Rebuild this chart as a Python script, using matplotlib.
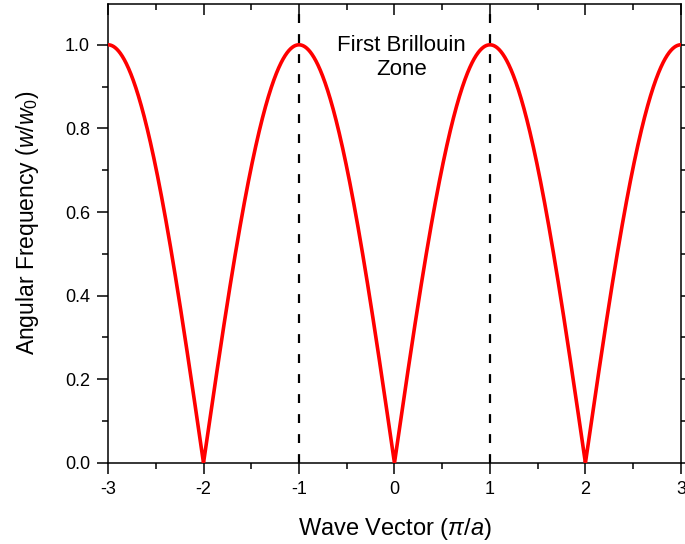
import numpy as np
import matplotlib.pyplot as plt
from matplotlib.ticker import MultipleLocator

# Relation de dispersion d'une chaine monoatomique: w/w0 = |sin(k a / 2)|
k_min, k_max = -3, 3          # vecteur d'onde en unites de pi/a
w_max = 1.0                   # amplitude (w/w0)
zone_edges = [-1, 1]          # limites de la premiere zone de Brillouin
x_ticks = [-3, -2, -1, 0, 1, 2, 3]
y_ticks = [0.0, 0.2, 0.4, 0.6, 0.8, 1.0]

k = np.linspace(k_min, k_max, 2001)
w = w_max * np.abs(np.sin(np.pi * k / 2))

plt.rcParams['font.family'] = ['Liberation Sans', 'DejaVu Sans']
plt.rcParams['mathtext.fontset'] = 'custom'
plt.rcParams['mathtext.rm'] = 'Liberation Sans'
plt.rcParams['mathtext.it'] = 'Liberation Sans:italic'

fig = plt.figure(figsize=(6.85, 5.44), dpi=100)
ax = fig.add_axes([0.1577, 0.149, 0.8363, 0.844])

ax.plot(k, w, color='red', lw=2.6, zorder=3)
for xe in zone_edges:
    ax.axvline(xe, color='black', ls=(0, (4, 5)), lw=1.6, zorder=2)

ax.text(0.07, 0.97, 'First Brillouin\nZone', ha='center', va='center',
        multialignment='center', fontsize=16, linespacing=1.15)

ax.set_xlim(k_min, k_max)
ax.set_ylim(0, 1.098)
ax.set_xticks(x_ticks)
ax.set_xticklabels([str(t) for t in x_ticks])
ax.set_yticks(y_ticks)
ax.set_yticklabels(['%.1f' % t for t in y_ticks])
ax.xaxis.set_minor_locator(MultipleLocator(0.5))
ax.yaxis.set_minor_locator(MultipleLocator(0.1))

ax.tick_params(which='both', direction='out', labelsize=13, width=1.1,
               top=True, right=True, pad=5)
ax.tick_params(which='major', length=8)
ax.tick_params(which='minor', length=4)
# les graduations du haut pointent vers l'interieur
for t in ax.xaxis.get_major_ticks() + ax.xaxis.get_minor_ticks():
    t.tick2line.set_marker(3)
for sp in ax.spines.values():
    sp.set_linewidth(1.1)

ax.set_xlabel(r'Wave Vector ($π/a$)', fontsize=17, labelpad=13)
ax.set_ylabel(r'Angular Frequency ($w/w_0$)', fontsize=16.5, labelpad=17)
ax.yaxis.label.set_y(0.523)

fig.savefig('out.png', dpi=100)
